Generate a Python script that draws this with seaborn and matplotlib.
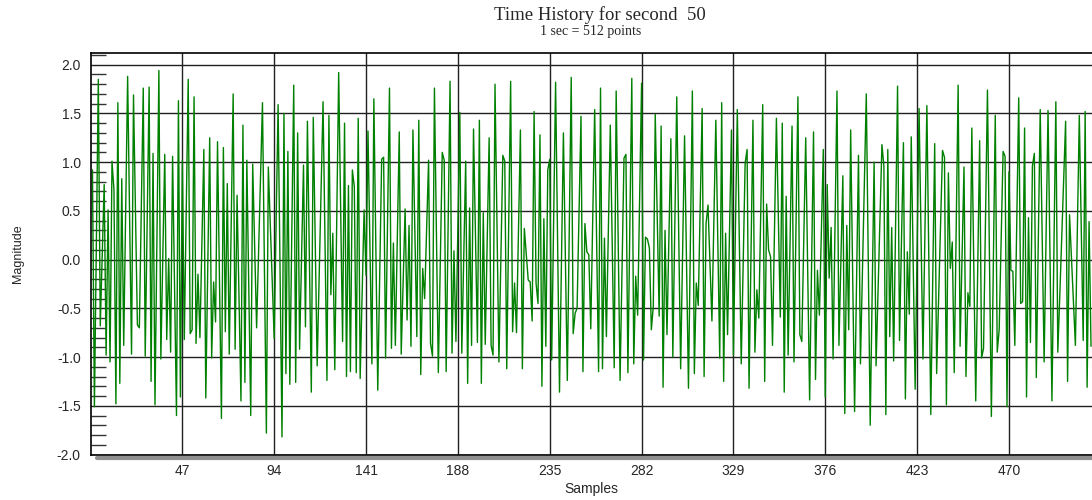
import numpy as np
import pandas as pd
import matplotlib
matplotlib.use("Agg")
import matplotlib.pyplot as plt
import seaborn as sns
from matplotlib.lines import Line2D

# Samples (index) and magnitude
samples = [1, 2, 4, 5, 7, 8, 9, 10, 11, 12, 13, 14, 15, 16, 17, 19, 21, 22, 24, 25,
           27, 28, 30, 31, 32, 33, 35, 36, 38, 39, 40, 41, 42, 44, 45, 46, 47, 48, 50, 51,
           52, 53, 54, 55, 56, 58, 59, 61, 62, 63, 64, 65, 67, 68, 69, 70, 71, 73, 74, 75,
           77, 78, 79, 80, 82, 83, 85, 88, 90, 91, 94, 96, 98, 99, 100, 101, 102, 104, 105, 106,
           107, 109, 110, 111, 113, 114, 116, 119, 121, 122, 123, 124, 125, 127, 129, 130, 131, 132, 133, 134,
           135, 136, 137, 138, 140, 141, 142, 144, 145, 147, 149, 150, 151, 153, 154, 155, 156, 158, 159, 161,
           162, 163, 164, 165, 167, 168, 169, 170, 171, 173, 174, 175, 176, 178, 180, 181, 182, 184, 185, 186,
           187, 189, 190, 192, 193, 194, 195, 196, 198, 199, 200, 201, 202, 204, 205, 206, 207, 209, 211, 212,
           213, 215, 216, 217, 218, 220, 221, 222, 224, 225, 226, 227, 228, 229, 230, 231, 232, 233, 234, 235,
           236, 238, 240, 242, 244, 246, 247, 248, 249, 251, 252, 253, 254, 255, 256, 258, 260, 261, 262, 263,
           264, 266, 268, 269, 271, 273, 274, 275, 277, 278, 279, 280, 282, 283, 284, 285, 286, 287, 288, 289,
           291, 292, 293, 294, 295, 297, 298, 300, 302, 304, 306, 308, 309, 310, 311, 313, 314, 315, 316, 318,
           320, 322, 323, 324, 325, 326, 328, 329, 331, 333, 335, 336, 337, 339, 340, 341, 342, 344, 345, 346,
           347, 348, 349, 351, 353, 354, 355, 356, 357, 359, 360, 362, 363, 364, 366, 368, 370, 371, 372, 373,
           375, 376, 377, 378, 379, 380, 382, 383, 385, 386, 387, 388, 389, 391, 393, 394, 397, 399, 401, 402,
           405, 406, 407, 408, 409, 410, 411, 413, 414, 416, 417, 418, 419, 420, 422, 424, 426, 428, 430, 432,
           433, 436, 437, 438, 439, 440, 441, 442, 444, 445, 447, 448, 449, 450, 451, 453, 455, 456, 457, 459,
           461, 463, 464, 465, 467, 468, 469, 470, 471, 472, 473, 475, 476, 477, 478, 479, 480, 481, 482, 483,
           484, 486, 488, 490, 492, 494, 495, 496, 499, 500, 501, 504, 506, 508, 509, 510, 511, 512]

magnitude = [0.92, -1.51, 1.85, -0.68, 0.77, -0.98, 0.51, -1.05, 1.01, 0.72, -1.48, 1.61, -1.27, 0.83, -0.88, 1.88, -0.97, 1.69, -0.67, -0.70,
             1.76, -0.99, 1.77, -1.25, 1.09, -1.49, 1.94, -1.02, 1.08, -0.82, 0.01, -0.95, 1.06, -1.60, 1.63, -1.41, 1.02, -0.82, 1.85, -0.76,
             -0.72, 1.67, -0.86, -0.15, -0.80, 1.13, -1.42, 1.25, -1.01, -0.23, -0.64, 1.21, -1.63, 1.15, -0.74, 0.78, -0.97, 1.70, -0.92, 0.66,
             -1.45, 1.38, -1.26, 1.02, -1.60, 0.98, -0.70, 1.61, -1.78, 0.95, -0.81, 1.59, -1.82, 1.50, -1.17, 1.11, -1.28, 1.79, -1.26, 1.30,
             -0.92, 0.97, -0.69, 1.42, -1.36, 1.46, -1.09, 1.62, -1.24, 1.48, -0.36, 0.27, -1.13, 1.92, -0.84, 1.40, -1.20, 0.76, -1.15, 0.92,
             0.75, -1.16, 1.45, -1.22, 0.51, -0.16, 1.32, -1.07, 1.65, -1.34, 1.03, 1.05, -1.01, 1.76, -0.91, 0.17, -0.88, 1.31, -0.97, 0.52,
             -0.62, 0.35, -0.89, 1.33, -0.79, 1.43, -1.18, -0.09, -0.40, 1.02, -0.86, -0.99, 1.76, -1.16, 1.10, 1.02, -1.15, 1.83, -0.96, 0.09,
             -0.84, 1.51, -0.96, 1.01, -1.27, 0.53, -0.88, 1.34, -0.85, 1.43, -1.27, 0.48, -0.87, 1.25, -0.88, -0.98, 1.80, -1.05, 1.07, 1.01,
             -1.12, 1.83, -0.74, -0.24, -0.75, 1.33, -1.12, 0.32, -0.21, -0.23, -0.63, 1.52, -0.24, -0.45, 1.28, -1.30, 0.42, -0.89, 0.92, 1.03,
             -1.03, 1.82, -1.36, 1.30, -1.24, 1.87, -0.76, -0.55, -0.50, 1.47, -1.15, 0.37, 0.08, 0.05, -0.71, 1.54, -1.15, 1.76, -1.12, 0.22,
             -0.79, 1.38, -1.11, 1.73, -1.24, 1.04, 1.08, -1.16, 1.86, -1.07, -0.17, -0.57, 1.81, -1.03, 0.23, 0.21, 0.12, -0.72, -0.48, 1.49,
             -0.58, 1.37, -1.31, 0.30, -0.77, 1.24, -1.00, 1.67, -1.12, 1.27, -1.32, 1.73, -1.17, -0.24, -0.47, 1.55, -1.20, 0.37, 0.56, -0.63,
             1.43, -1.01, 1.61, -1.25, 0.27, -0.77, 1.33, -0.98, 1.54, -1.07, 0.99, 1.13, -1.32, 1.43, -0.95, -0.31, -0.60, 1.59, -1.25, 0.57,
             0.10, 0.03, -0.88, 1.45, -0.59, 1.40, -1.36, 0.65, -0.98, 1.37, -1.05, 1.67, -0.77, -0.84, 1.25, -1.44, 1.31, -1.23, -0.11, -0.57,
             1.13, -1.41, 0.77, -0.19, 0.33, -1.02, 1.73, -0.88, 0.86, -1.58, 0.35, -0.72, 1.33, -1.56, 1.07, -1.07, 1.70, -1.70, 1.00, -1.09,
             1.18, 0.96, -1.59, 1.13, -0.79, 0.33, -1.04, 1.78, -0.83, 1.20, -1.43, 0.08, -0.56, 1.26, -1.33, 1.55, -1.02, 1.58, -1.59, 1.19,
             -1.17, 1.12, 1.05, -1.49, 0.89, -0.09, 0.18, -1.16, 1.79, -0.89, 0.95, -1.20, -0.34, -0.48, 1.35, -1.45, 1.22, -1.01, -0.91, 1.74,
             -1.61, 1.48, -0.95, -0.72, 1.11, 1.06, -1.51, 0.90, -0.11, -0.12, -0.88, 1.66, -0.45, -0.43, 1.35, -1.41, 0.43, -0.85, 0.96, 1.09,
             -1.21, 1.54, -1.05, 1.53, -1.45, 1.62, -0.95, -0.38, 1.42, -1.25, 0.46, -0.88, 1.48, -0.83, 1.52, -1.31, 0.39, -0.89]

x_ticks = [47, 94, 141, 188, 235, 282, 329, 376, 423, 470]
y_ticks = [-2.0, -1.5, -1.0, -0.5, 0.0, 0.5, 1.0, 1.5, 2.0]

df = pd.DataFrame({"Samples": samples, "Magnitude": magnitude})

sns.set_style("white")
plt.rcParams['font.family'] = ['Liberation Sans', 'DejaVu Sans']
plt.rcParams['axes.unicode_minus'] = False

fig = plt.figure(figsize=(10.92, 5.0), dpi=100)
ax = fig.add_axes([90.5 / 1092, 1 - 454.5 / 500, (1092 - 90.5) / 1092, 401.5 / 500])

sns.lineplot(data=df, x="Samples", y="Magnitude", color="#008000", linewidth=1.0, ax=ax)

ax.set_xlim(0, 512.5)
ax.set_ylim(-2.0, 2.12)
ax.set_xticks(x_ticks)
ax.set_yticks(y_ticks)
ax.set_yticklabels([f"{v:.1f}" for v in y_ticks])
ax.set_yticks(np.arange(-2.0, 2.12, 0.1), minor=True)
ax.grid(True, which="major", color="#202020", linewidth=1.0)
ax.tick_params(axis="both", which="major", direction="out", length=5, width=1,
               color="black", labelsize=10, pad=2)
ax.tick_params(axis="y", which="minor", direction="in", length=11, width=1,
               color="#333333", left=True)
ax.tick_params(axis="x", which="minor", bottom=False)

for side in ["left", "top", "bottom"]:
    ax.spines[side].set_color("black")
    ax.spines[side].set_linewidth(1.2)
ax.spines["right"].set_visible(False)

# gray shadow under the bottom axis
ax.add_line(Line2D([0.006, 1.0], [-0.008, -0.008], transform=ax.transAxes,
                   color="#909090", linewidth=3, clip_on=False))

ax.set_xlabel("Samples", fontsize=10, labelpad=3)
ax.set_ylabel("Magnitude", fontsize=9)
ax.yaxis.set_label_coords(-0.066, 0.5)

fig.text(0.549, 0.969, "Time History for second  50", ha="center", va="center",
         fontsize=13.5, family="Liberation Serif")
fig.text(0.541, 0.937, "1 sec = 512 points", ha="center", va="center",
         fontsize=10, family="Liberation Serif")

fig.savefig("out.png", dpi=100)
